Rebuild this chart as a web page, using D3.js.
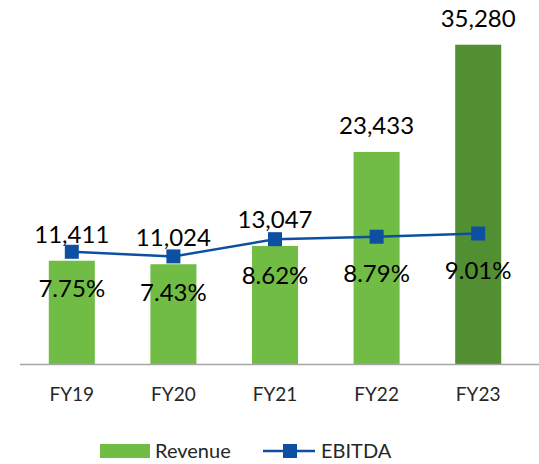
<!DOCTYPE html>
<html lang="en">
<head>
    <meta charset="UTF-8">
    <title>Revenue and EBITDA</title>
    <script src="https://d3js.org/d3.v7.min.js"></script>
    <style>
        body { margin: 0; background: #fff; }
        text { font-family: Lato, "Open Sans", sans-serif; }
        .value { font-size: 24px; fill: #000; text-anchor: middle; }
        .tick text { font-size: 19px; fill: #262626; }
        .legend { font-size: 20px; fill: #262626; }
    </style>
</head>
<body>
    <svg width="539" height="464"></svg>
    <script>
        const years = ["FY19", "FY20", "FY21", "FY22", "FY23"];
        const revenue = [11411, 11024, 13047, 23433, 35280];
        const ebitdaMargin = [7.75, 7.43, 8.62, 8.79, 9.01];

        const lightGreen = "#70bc45";
        const darkGreen = "#528f33";
        const blue = "#0d4fa0";

        const svg = d3.select("svg");
        const baseY = 364;

        const x = d3.scaleBand()
            .domain(years)
            .range([21, 529])
            .paddingInner(0.547)
            .paddingOuter(0.2735);
        const y = d3.scaleLinear().domain([0, 40000]).range([baseY, 2]);
        const y2 = d3.scaleLinear().domain([0, 25]).range([baseY, 2]);

        const rows = years.map((d, i) => ({ year: d, rev: revenue[i], m: ebitdaMargin[i] }));

        // bars
        svg.selectAll(".bar")
            .data(rows)
            .enter()
            .append("rect")
            .attr("class", "bar")
            .attr("x", d => x(d.year))
            .attr("y", d => y(d.rev))
            .attr("width", x.bandwidth())
            .attr("height", d => baseY - y(d.rev))
            .attr("fill", (d, i) => i === rows.length - 1 ? darkGreen : lightGreen);

        // x axis
        const xAxis = svg.append("g")
            .attr("transform", `translate(0,${baseY})`)
            .call(d3.axisBottom(x).tickSize(0).tickPadding(24));
        xAxis.select(".domain").attr("d", "M20,0.5H539").attr("stroke", "#a6a6a6").attr("stroke-width", 1.5);

        // revenue labels
        svg.selectAll(".rev-label")
            .data(rows)
            .enter()
            .append("text")
            .attr("class", "value")
            .attr("x", d => x(d.year) + x.bandwidth() / 2)
            .attr("y", d => y(d.rev) - 18)
            .text(d => d3.format(",")(d.rev));

        // EBITDA line
        const cx = d => x(d.year) + x.bandwidth() / 2;
        svg.append("path")
            .datum(rows)
            .attr("fill", "none")
            .attr("stroke", blue)
            .attr("stroke-width", 2.5)
            .attr("d", d3.line().x(cx).y(d => y2(d.m)));

        svg.selectAll(".marker")
            .data(rows)
            .enter()
            .append("rect")
            .attr("x", d => cx(d) - 7)
            .attr("y", d => y2(d.m) - 7)
            .attr("width", 14)
            .attr("height", 14)
            .attr("fill", blue);

        svg.selectAll(".pct-label")
            .data(rows)
            .enter()
            .append("text")
            .attr("class", "value")
            .attr("x", cx)
            .attr("y", d => y2(d.m) + 45)
            .text(d => d.m.toFixed(2) + "%");

        // legend
        const legend = svg.append("g");
        legend.append("rect")
            .attr("x", 100).attr("y", 444)
            .attr("width", 50).attr("height", 14)
            .attr("fill", lightGreen);
        legend.append("text")
            .attr("class", "legend")
            .attr("x", 155).attr("y", 458)
            .text("Revenue");
        legend.append("line")
            .attr("x1", 263).attr("x2", 315)
            .attr("y1", 451).attr("y2", 451)
            .attr("stroke", blue).attr("stroke-width", 2.5);
        legend.append("rect")
            .attr("x", 283).attr("y", 444)
            .attr("width", 14).attr("height", 14)
            .attr("fill", blue);
        legend.append("text")
            .attr("class", "legend")
            .attr("x", 321).attr("y", 458)
            .text("EBITDA");
    </script>
</body>
</html>
